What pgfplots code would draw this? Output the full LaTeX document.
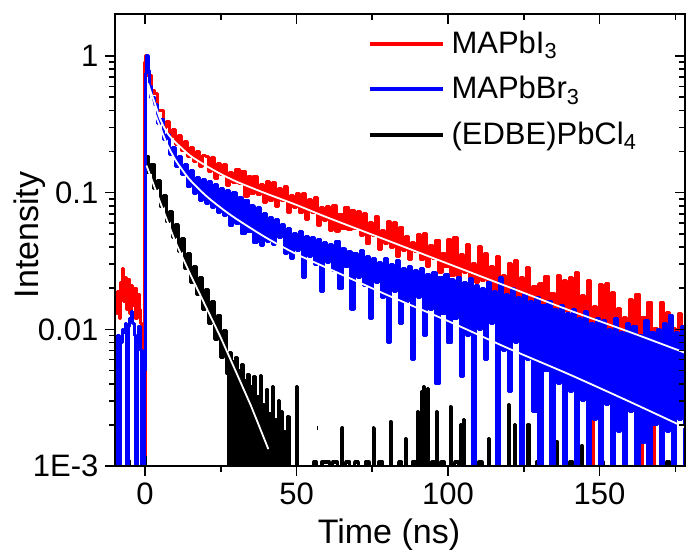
\documentclass[border=0pt]{standalone}
\usepackage{pgfplots}
\pgfplotsset{compat=1.18}
\usepackage{fontspec}
\setmainfont{Liberation Sans}
\begin{document}
\begin{tikzpicture}
\begin{axis}[
  at={(0,0)}, anchor=south west,
  scale only axis, width=285pt, height=226pt,
  xmin=-9.9, xmax=178.2, ymin=0.001, ymax=2.03,
  ymode=log,
  xtick={0,50,100,150}, minor xtick={25,75,125,175},
  ytick={0.001,0.01,0.1,1},
  minor ytick={0.002,0.003,0.004,0.005,0.006,0.007,0.008,0.009,0.02,0.03,0.04,0.05,0.06,0.07,0.08,0.09,0.2,0.3,0.4,0.5,0.6,0.7,0.8,0.9},
  major tick length=4.8pt, minor tick length=3pt,
  axis line style={line width=1pt},
  tick style={line width=0.8pt, black},
  xtick pos=left, ytick pos=left, tick align=outside,
  yticklabels={1E-3,0.01,0.1,1},
  /pgf/number format/assume math mode=true,
  ticklabel style={font=\fontsize{15.5}{18}\selectfont},
  xlabel={Time (ns)}, ylabel={Intensity},
  every axis x label/.style={at={(rel axis cs:0.5,0)}, anchor=base, yshift=-38.5pt, xshift=-5.5pt, font=\fontsize{17}{20}\selectfont},
  every axis y label/.style={at={(rel axis cs:0,0.5)}, xshift=-42.5pt, yshift=2.5pt, rotate=90, anchor=center, font=\fontsize{17}{20}\selectfont},
  unbounded coords=jump,
  legend style={at={(axis description cs:0.4423,0.972)}, anchor=north west, draw=none, fill=none,
    font=\fontsize{15.5}{18}\selectfont, row sep=6pt, column sep=1.5pt, inner sep=0pt},
  legend cell align=left,
  legend image code/.code={\draw[#1,line width=2pt] (0pt,0pt) -- (36.5pt,0pt);},
  data/.style={const plot, line width=1.6pt, line join=round, forget plot},
]
\addlegendimage{red}
\addlegendentry{MAPbI\textsubscript{3}}
\addlegendimage{blue}
\addlegendentry{MAPbBr\textsubscript{3}}
\addlegendimage{black}
\addlegendentry{(EDBE)PbCl\textsubscript{4}}

% (EDBE)PbCl4 data
\addplot[black, data] coordinates {
(-10,0.0005) (-9.3,0.0005) (-9.1,0.0012) (-8.7,0.0012) (-8.5,0.0005) (-5.7,0.0005) (-5.5,0.0011) (-5.2,0.0005) (-0.3,0.0005)
(0,0.185) (1,0.14) (2,0.16) (3,0.108) (4,0.122) (5,0.08) (6,0.095) (7,0.062) (8,0.073) (9,0.047) (10,0.058)
(11,0.037) (12,0.046) (13,0.028) (14,0.036) (15,0.022) (16,0.029) (17,0.018) (18,0.024) (19,0.014) (20,0.0195)
(21,0.011) (22,0.016) (23,0.0085) (24,0.0125) (25,0.0062) (26,0.0098) (27,0.0048)
(27.5,0.0005) (28,0.0068) (28.5,0.0005) (29,0.0058) (29.5,0.0005) (30,0.0062) (30.5,0.0005) (31,0.005) (31.5,0.0005)
(32,0.0055) (32.5,0.0005) (33,0.0042) (33.5,0.0005) (34,0.0047) (34.5,0.0005) (35,0.0038) (35.5,0.0005) (36,0.0045)
(36.5,0.0005) (37,0.0032) (37.5,0.0005) (38,0.0046) (38.5,0.0005) (39,0.0028) (39.5,0.0005) (40,0.0036) (40.5,0.0005)
(41,0.0024) (41.5,0.0005) (42,0.0038) (42.5,0.0005) (43,0.0022) (43.5,0.0005) (44,0.003) (44.5,0.0005) (45,0.0025)
(45.5,0.0005) (46,0.0018) (46.5,0.0005) (47,0.0023) (47.5,0.0005) (48,0.0005)
(49.8,0.0005) (50.1,0.0038) (50.4,0.0005)
(55.5,0.0005) (55.7,0.00107) (56.3,0.00107) (56.5,0.0005) (56.6,nan) (56.8,0.0019) (57.0,0.0019) (57.1,nan)
(58.2,0.0005) (58.4,0.00107) (60.6,0.00107) (60.8,0.0005)
(61.8,0.0005) (62,0.00107) (63.2,0.00107) (63.4,0.0005)
(64.6,0.0005) (64.9,0.0019) (65.2,0.0005)
(66,0.0005) (66.2,0.00107) (67.4,0.00107) (67.6,0.0005)
(69,0.0005) (69.2,0.00107) (70.2,0.00107) (70.4,0.0005)
(72.5,0.0005) (72.7,0.00107) (73.7,0.00107) (73.9,0.0005)
(75,0.0005) (75.3,0.0019) (75.6,0.0005)
(77,0.0005) (77.2,0.00107) (78.2,0.00107) (78.4,0.0005)
(80.6,0.0005) (80.9,0.0021) (81.2,0.0005)
(83.5,0.0005) (83.7,0.00107) (84.5,0.00107) (84.7,0.0005)
(85.8,0.0005) (86,0.0016) (86.3,0.0005)
(88,0.0005) (88.2,0.00107) (89.2,0.00107) (89.4,0.0005)
(89.7,0.0005) (90,0.0025) (90.3,0.0005)
(91,0.0005) (91.3,0.0035) (91.6,0.0005) (91.9,0.0038) (92.2,0.0005)
(93,0.0005) (93.3,0.0037) (93.6,0.0005)
(94.5,0.0005) (94.7,0.00107) (95.5,0.00107) (95.7,0.0005)
(95.9,0.0005) (96.2,0.0025) (96.5,0.0005)
(97.5,0.0005) (97.7,0.00107) (98.5,0.00107) (98.7,0.0005)
(100.4,0.0005) (100.7,0.0027) (101,0.0005)
(102,0.0005) (102.2,0.00107) (103.2,0.00107) (103.4,0.0005)
(103.7,0.0005) (104,0.002) (104.3,0.0005)
(104.8,0.0005) (105.1,0.0022) (105.4,0.0005)
(107.7,0.0005) (108,0.0017) (108.3,0.0005)
(110,0.0005) (110.2,0.00107) (111,0.00107) (111.2,0.0005)
(113,0.0005) (113.3,0.0016) (113.6,0.0005)
(119.6,0.0005) (119.9,0.0028) (120.2,0.0005)
(121.7,0.0005) (122,0.002) (122.3,0.0005)
(126.1,0.0005) (126.4,0.002) (126.7,0.0005)
(129,0.0005) (129.2,0.00107) (130,0.00107) (130.2,0.0005)
(135.6,0.0005) (135.9,0.0015) (136.2,0.0005)
(140,0.0005) (140.2,0.00107) (141,0.00107) (141.2,0.0005)
(143.7,0.0005) (144,0.0014) (144.3,0.0005)
(150,0.0005) (150.2,0.00107) (151,0.00107) (151.2,0.0005)
(163.1,0.0005) (163.4,0.002) (163.7,0.0005)
(167.4,0.0005) (167.7,0.0015) (168,0.0005)
(172,0.0005) (172.2,0.00107) (173,0.00107) (173.2,0.0005)
(179,0.0005)
};

% MAPbI3 data
\addplot[red, data] coordinates {
(-10,0.017) (-9.5,0.013) (-9,0.019) (-8.5,0.012) (-8,0.022) (-7.5,0.028) (-7,0.016) (-6.5,0.024) (-6,0.014) (-5.5,0.023)
(-5,0.013) (-4.5,0.021) (-4,0.015) (-3.5,0.02) (-3,0.012) (-2.5,0.018) (-2,0.014) (-1.5,0.011) (-1,0.006) (-0.6,0.0025)
(-0.3,0.0012) (0,0.9) (0.3,1.0) (0.7,0.82) (1,0.72) (2,0.56) (3,0.53) (4,0.40) (5,0.40) (6,0.30) (7,0.33) (8,0.255)
(9,0.29) (10,0.225) (11,0.26) (12,0.205) (13,0.235) (14,0.185) (15,0.215) (16,0.17) (17,0.2) (18,0.155) (19,0.188)
(20,0.185) (21,0.143) (22,0.18) (23,0.128) (24,0.163) (25,0.137) (26,0.16) (27,0.113) (28,0.141) (29,0.119)
(30,0.148) (31,0.117) (32,0.143) (33,0.094) (34,0.131) (35,0.0996) (36,0.132) (37,0.0978) (38,0.115) (39,0.0852)
(40,0.12) (41,0.0885) (42,0.118) (43,0.0788) (44,0.107) (45,0.0885) (46,0.11) (47,0.0714) (48,0.095) (49,0.0781)
(50,0.098) (51,0.0722) (52,0.099) (53,0.0639) (54,0.0896) (55,0.0722) (56,0.092) (57,0.0572) (58,0.078) (59,0.063)
(60,0.0791) (61,0.0527) (62,0.08) (63,0.0521) (64,0.0692) (65,0.0544) (66,0.078) (67,0.0538) (68,0.074) (69,0.0546)
(70,0.0726) (71,0.0484) (72,0.07) (73,0.0428) (74,0.0602) (75,0.0486) (76,0.0664) (77,0.0386) (78,0.0526) (79,0.0426)
(80,0.0614) (81,0.0398) (82,0.0608) (83,0.0343) (84,0.0552) (85,0.0378) (86,0.0476) (87,0.0326) (88,0.0433) (89,0.037)
(90,0.0491) (91,0.0327) (92,0.05) (93,0.0289) (94,0.0407) (95,0.0328) (96,0.0449) (97,0.0261) (98,0.0356) (99,0.0288)
(100,0.0451) (101,0.0248) (102,0.0472) (103,0.021) (104,0.0353) (105,0.0259) (106,0.0418) (107,0.0186) (108,0.0301) (109,0.022)
(110,0.0403) (111,0.023) (112,0.0357) (113,0.0166) (114,0.029) (115,0.0188) (116,0.0343) (117,0.0189) (118,0.0247) (119,0.0154)
(120,0.0305) (121,0.0168) (122,0.0319) (123,0.0143) (124,0.024) (125,0.0177) (126,0.0285) (127,0.0128) (128,0.0205) (129,0.0151)
(130,0.0215) (131,0.0118) (132,0.0244) (133,0.0119) (134,0.0184) (135,0.0129) (136,0.0247) (137,0.013) (138,0.0228) (139,0.0136)
(140,0.0239) (141,0.0105) (142,0.026) (143,0.0085) (144,0.0176) (145,0.0116) (146,0.0227) (147,0.0009) (148,0.0146) (149,0.0096)
(150,0.0212) (151,0.0087) (152,0.0215) (153,0.0067) (154,0.0185) (155,0.0086) (156,0.0142) (157,0.0066) (158,0.0122) (159,0.009)
(160,0.0166) (161,0.0073) (162,0.018) (163,0.0008) (164,0.0122) (165,0.0081) (166,0.0158) (167,0.0009) (168,0.0101) (169,0.0067)
(170,0.0156) (171,0.0072) (172,0.0133) (173,0.0047) (174,0.0102) (175,0.0057) (176,0.0131) (177,0.0058) (178,0.0085) (179,0.0044)
};

% MAPbBr3 data
\addplot[blue, data] coordinates {
(-10,0.0008) (-9.5,0.006) (-9,0.009) (-8.5,0.0008) (-8,0.008) (-7.5,0.01) (-7,0.0095) (-6.5,0.011) (-6,0.0008) (-5.5,0.0105)
(-5,0.012) (-4.5,0.0135) (-4,0.011) (-3.5,0.009) (-3,0.0008) (-2.5,0.008) (-2,0.0105) (-1.5,0.007) (-1,0.0008) (-0.5,0.0008)
(-0.2,0.005) (0.1,0.75) (0.5,1.0) (1,0.78) (1.5,0.6) (2,0.5) (3,0.44) (4,0.32) (5,0.34) (6,0.245) (7,0.265) (8,0.19) (9,0.215)
(10,0.155) (11,0.185) (12,0.135) (13,0.16) (14,0.112) (15,0.145) (16,0.098) (17,0.13) (18,0.088) (19,0.125) (20,0.084)
(21,0.12) (22,0.078) (23,0.115) (24,0.072) (25,0.108) (26,0.068) (27,0.104) (28,0.058) (29,0.1) (30,0.06)
(31,0.092) (32,0.05) (33,0.088) (34,0.052) (35,0.08) (36,0.043) (37,0.078) (38,0.041) (39,0.07) (40,0.044)
(41,0.066) (42,0.042) (43,0.064) (44,0.047) (45,0.058) (46,0.036) (47,0.055) (48,0.033) (49,0.05) (50,0.038)
(51,0.052) (52,0.024) (53,0.048) (54,0.034) (55,0.047) (56,0.03) (57,0.045) (58,0.019) (59,0.043) (60,0.031)
(61,0.042) (62,0.027) (63,0.044) (64,0.02) (65,0.039) (66,0.029) (67,0.037) (68,0.014) (69,0.036) (70,0.024)
(71,0.038) (72,0.021) (73,0.034) (74,0.012) (75,0.033) (76,0.022) (77,0.031) (78,0.017) (79,0.033) (80,0.008)
(81,0.03) (82,0.019) (83,0.032) (84,0.011) (85,0.028) (86,0.016) (87,0.029) (88,0.006) (89,0.027) (90,0.017)
(91,0.028) (92,0.009) (93,0.025) (94,0.014) (95,0.026) (96,0.004) (97,0.024) (98,0.013) (99,0.025) (100,0.008)
(101,0.023) (102,0.012) (103,0.024) (104,0.0045) (105,0.022) (106,0.009) (107,0.0235) (108,0.0008) (109,0.021) (110,0.01)
(111,0.02) (112,0.006) (113,0.022) (114,0.011) (115,0.019) (116,0.0009) (117,0.024) (118,0.007) (119,0.018) (120,0.0035)
(121,0.02) (122,0.008) (123,0.017) (124,0.0008) (125,0.018) (126,0.006) (127,0.016) (128,0.0025) (129,0.017) (130,0.0008)
(131,0.015) (132,0.005) (133,0.016) (134,0.0009) (135,0.014) (136,0.004) (137,0.015) (138,0.0008) (139,0.013) (140,0.0035)
(141,0.014) (142,0.0008) (143,0.012) (144,0.003) (145,0.0135) (146,0.0009) (147,0.011) (148,0.0022) (149,0.012) (150,0.0008)
(151,0.0115) (152,0.0028) (153,0.01) (154,0.0008) (155,0.012) (156,0.0018) (157,0.0095) (158,0.0008) (159,0.011) (160,0.0025)
(161,0.0105) (162,0.0008) (163,0.009) (164,0.0015) (165,0.0115) (166,0.0008) (167,0.0095) (168,0.002) (169,0.01) (170,0.0008)
(171,0.011) (172,0.0018) (173,0.0125) (174,0.0008) (175,0.0095) (176,0.0022) (177,0.0105) (178,0.0009) (179,0.009)
};

% fits (white)
\addplot[white, line width=0.9pt, smooth, forget plot] coordinates {
(1,0.631) (1.5,0.58) (2,0.537) (3,0.468) (4,0.40) (5,0.347) (6,0.31) (7,0.282) (8,0.262) (10,0.234) (12,0.213) (15,0.186)
(20,0.158) (25,0.137) (30,0.121) (35,0.109) (40,0.0985) (50,0.0813) (60,0.0661) (80,0.0447) (100,0.0302) (120,0.0204)
(140,0.0138) (160,0.00955) (178.5,0.0067)
};
\addplot[white, line width=0.9pt, smooth, forget plot] coordinates {
(1.5,0.562) (2,0.49) (3,0.398) (4,0.345) (5,0.302) (6,0.265) (7,0.234) (8,0.21) (10,0.174) (12,0.150) (15,0.123)
(20,0.0955) (25,0.0776) (30,0.0646) (40,0.0468) (50,0.0355) (60,0.0282) (80,0.0178) (100,0.0115) (120,0.00724)
(140,0.00468) (160,0.00295) (178.5,0.0019)
};
\addplot[white, line width=0.9pt, forget plot] coordinates {
(0.5,0.158) (5,0.085) (10,0.0437) (15,0.0251) (20,0.0148) (25,0.0087) (30,0.0049) (35,0.00275) (40.7,0.00133)
};
\end{axis}
\begin{axis}[
  at={(0,0)}, anchor=south west,
  scale only axis, width=285pt, height=226pt,
  xmin=-9.9, xmax=178.2, ymin=0.001, ymax=2.03,
  ymode=log,
  xtick={0,50,100,150}, minor xtick={25,75,125,175},
  ytick={0.001,0.01,0.1,1},
  minor ytick={0.002,0.003,0.004,0.005,0.006,0.007,0.008,0.009,0.02,0.03,0.04,0.05,0.06,0.07,0.08,0.09,0.2,0.3,0.4,0.5,0.6,0.7,0.8,0.9},
  major tick length=4.8pt, minor tick length=3pt,
  axis line style={line width=1pt},
  tick style={line width=0.8pt, black},
  xtick pos=right, ytick pos=right, tick align=inside,
  xticklabels={}, yticklabels={},
]
\addplot[draw=none, forget plot] coordinates {(0,0.01) (1,0.01)};
\end{axis}
\pgfresetboundingbox
\path[use as bounding box] (-57.5pt,-42pt) rectangle (285.5pt,233pt);
\end{tikzpicture}
\end{document}
